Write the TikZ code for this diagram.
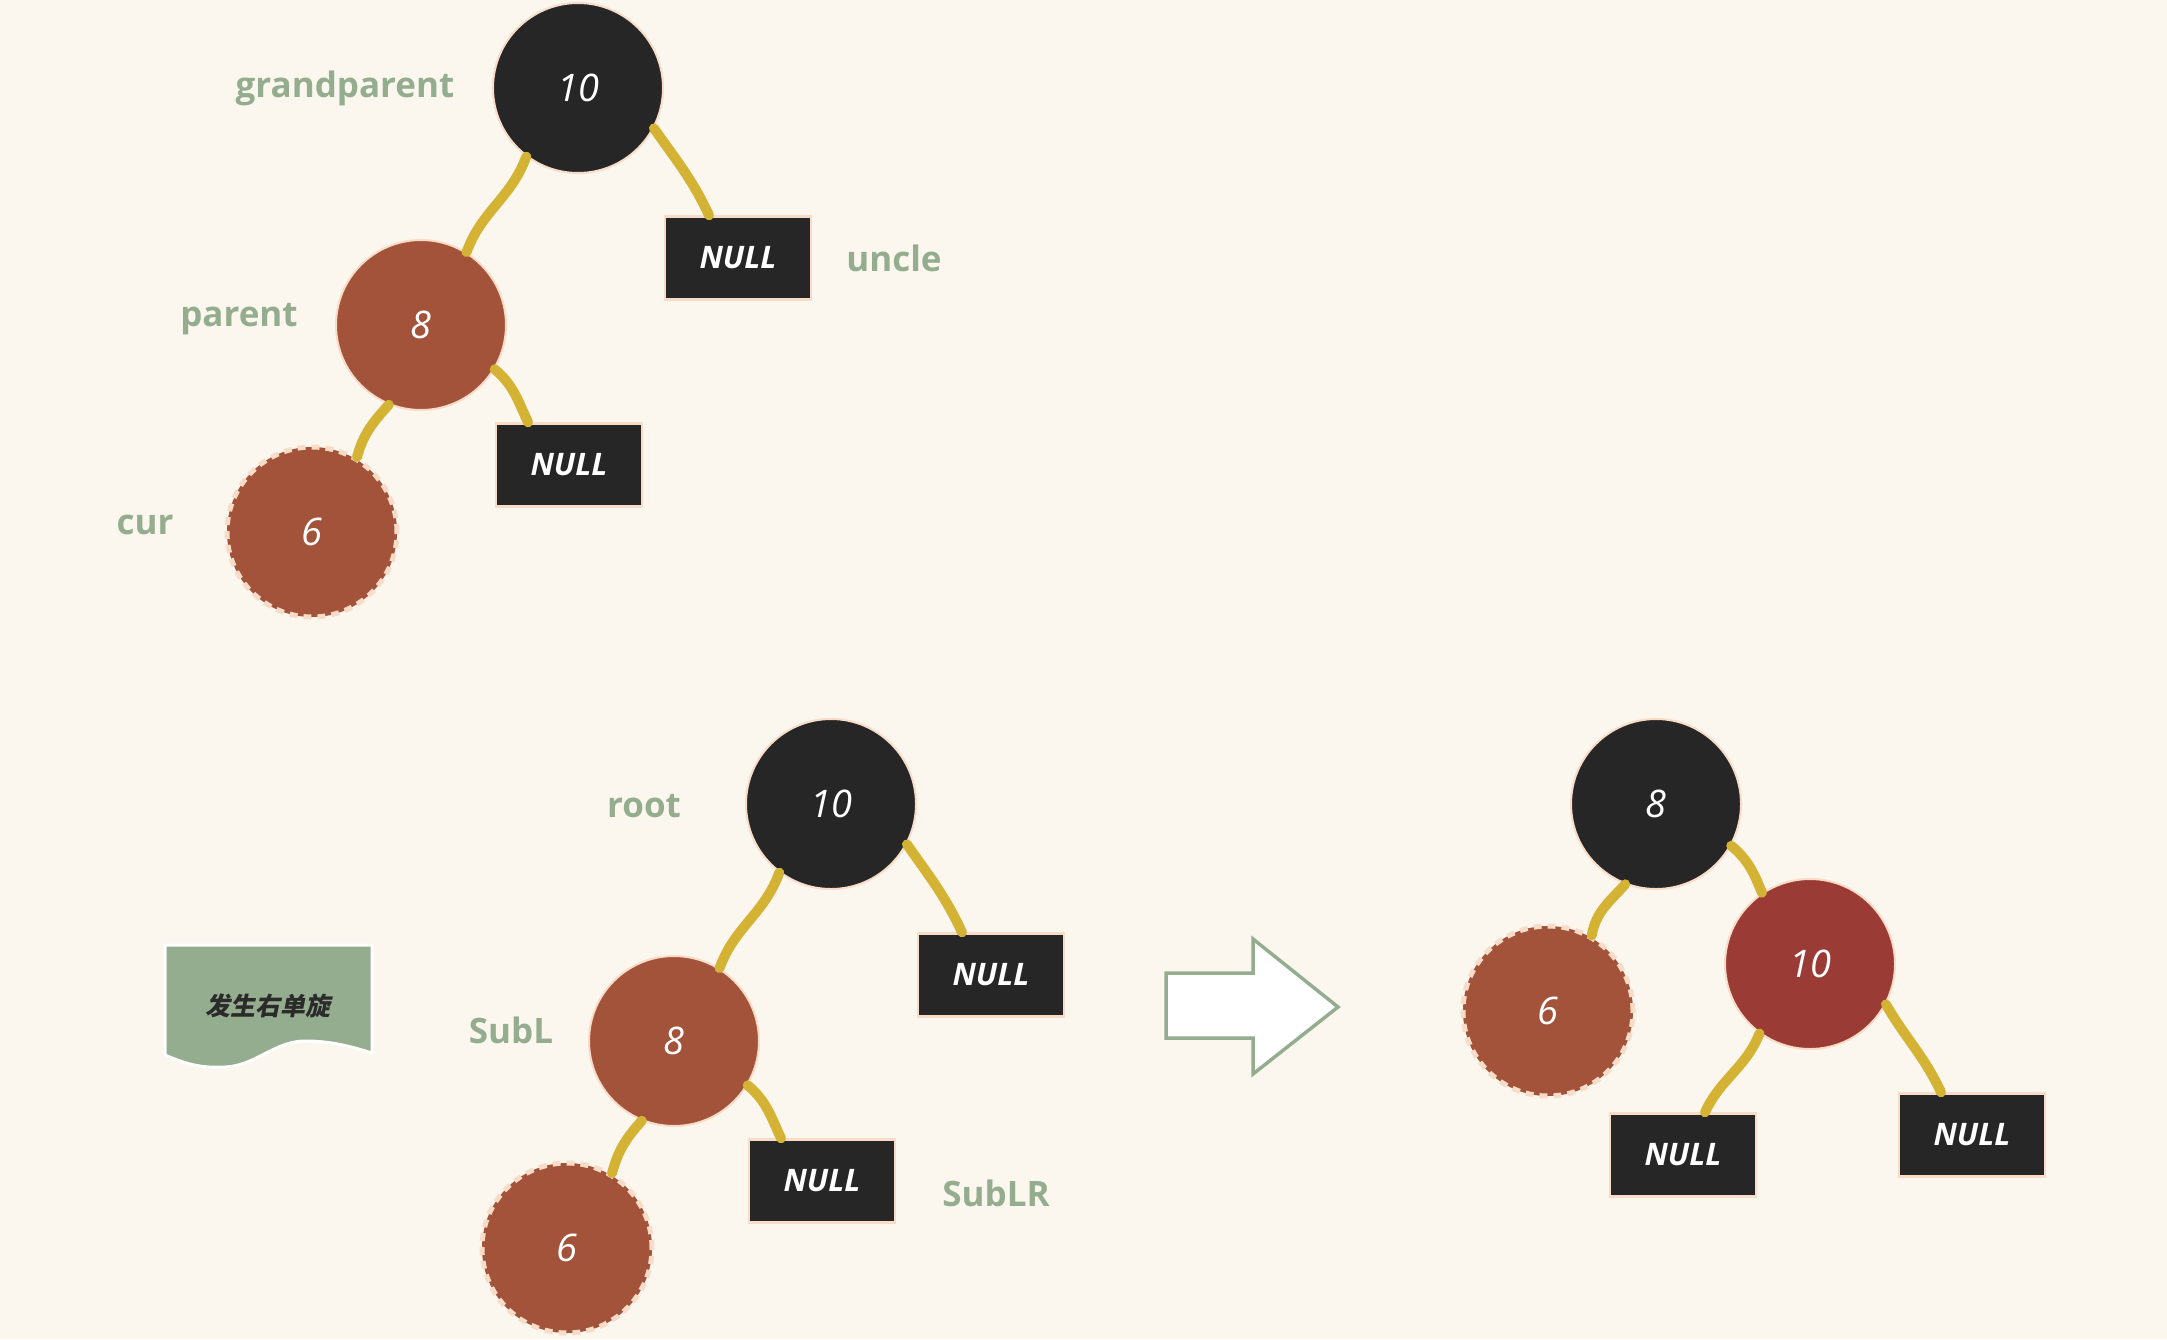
\documentclass[tikz,border=0pt]{standalone}
\usepackage{fontspec}
\setmainfont{Open Sans}
\newfontfamily\cjkfont{Noto Sans CJK SC}[FakeSlant=0.2]
\definecolor{bg}{HTML}{FBF6EE}
\definecolor{nodeblack}{HTML}{262626}
\definecolor{nodebrown}{HTML}{A3533A}
\definecolor{nodered}{HTML}{9B3B35}
\definecolor{peach}{HTML}{F8DCC8}
\definecolor{edgeyellow}{HTML}{D4B234}
\definecolor{labelgreen}{HTML}{95AD8F}
\definecolor{cjkdark}{HTML}{2B2B2B}
\begin{document}
\begin{tikzpicture}[x=1pt,y=1pt,
  bnode/.style={circle, minimum size=170pt, inner sep=0pt, draw=peach, line width=2pt, fill=nodeblack, text=white, font=\fontsize{38}{40}\selectfont\itshape},
  rnode/.style={bnode, fill=nodebrown},
  dnode/.style={rnode, dash pattern=on 8pt off 6pt, line width=5pt},
  nullbox/.style={rectangle, minimum width=146pt, minimum height=83pt, inner sep=0pt, draw=peach, line width=2.5pt, fill=nodeblack, text=white, font=\fontsize{31}{33}\selectfont\bfseries\itshape},
  lbl/.style={text=labelgreen, font=\fontsize{35}{40}\selectfont\bfseries, inner sep=0pt},
  edge/.style={draw=edgeyellow, line width=10pt, line cap=round},
  flagtext/.style={text=cjkdark, font=\cjkfont\fontsize{25}{28}\selectfont\bfseries, inner sep=0pt}]
\useasboundingbox (0,0) rectangle (2167,-1339);
\fill[bg] (0,0) rectangle (2167,-1339);

% top tree
\node[bnode] (g) at (578,-88) {10};
\node[lbl] (gl) at (345,-88) {grandparent};
\node[nullbox] (u) at (738,-258) {NULL};
\node[lbl] (ul) at (894,-258) {uncle};
\node[rnode] (p) at (421,-325) {8};
\node[lbl] (pl) at (239,-319) {parent};
\node[nullbox] (pn) at (569,-465) {NULL};
\node[dnode] (c) at (312,-532) {6};
\node[lbl] (cl) at (145,-525) {cur};
\draw[edge] (g.233) to[out=250,in=70] (p.58);
\draw[edge] (g.332) to[out=305,in=115] ([xshift=-29pt]u.north);
\draw[edge] (p.329) to[out=320,in=115] ([xshift=-41pt]pn.north);
\draw[edge] (p.248) to[out=228,in=75] (c.59);

% bottom middle tree
\node[bnode] (r) at (831,-804) {10};
\node[lbl] (rl) at (644,-806) {root};
\node[nullbox] (rn) at (991,-975) {NULL};
\node[rnode] (s) at (674,-1041) {8};
\node[lbl] (sl) at (511,-1030) {SubL};
\node[nullbox] (sn) at (822,-1181) {NULL};
\node[lbl] (snl) at (996,-1193) {SubLR};
\node[dnode] (sc) at (567,-1248) {6};
\draw[edge] (r.233) to[out=250,in=70] (s.58);
\draw[edge] (r.332) to[out=305,in=115] ([xshift=-29pt]rn.north);
\draw[edge] (s.329) to[out=320,in=115] ([xshift=-41pt]sn.north);
\draw[edge] (s.248) to[out=228,in=75] (sc.59);

% banner
\filldraw[fill=labelgreen, draw=white, line width=3pt]
  (165,-945) -- (165,-1055) .. controls (190,-1066) and (205,-1068) .. (225,-1067)
  .. controls (255,-1066) and (275,-1041) .. (305,-1041)
  .. controls (330,-1041) and (350,-1046) .. (372,-1053) -- (372,-945) -- cycle;
\node[flagtext] (flag) at (268,-1006) {发生右单旋};

% arrow
\filldraw[fill=white, draw=labelgreen, line width=3.5pt, line join=miter]
  (1166,-973) -- (1253,-973) -- (1253,-939) -- (1338,-1007) -- (1253,-1074) -- (1253,-1038) -- (1166,-1038) -- cycle;

% right tree
\node[bnode] (a) at (1656,-804) {8};
\node[dnode] (b) at (1548,-1011) {6};
\node[rnode, fill=nodered] (d) at (1810,-964) {10};
\node[nullbox] (dl) at (1683,-1155) {NULL};
\node[nullbox] (dr) at (1972,-1135) {NULL};
\draw[edge] (a.249) to[out=228,in=80] (b.60);
\draw[edge] (a.331) to[out=320,in=112] (d.124);
\draw[edge] (d.234) to[out=248,in=65] ([xshift=22pt]dl.north);
\draw[edge] (d.332) to[out=300,in=115] ([xshift=-31pt]dr.north);
\end{tikzpicture}
\end{document}
